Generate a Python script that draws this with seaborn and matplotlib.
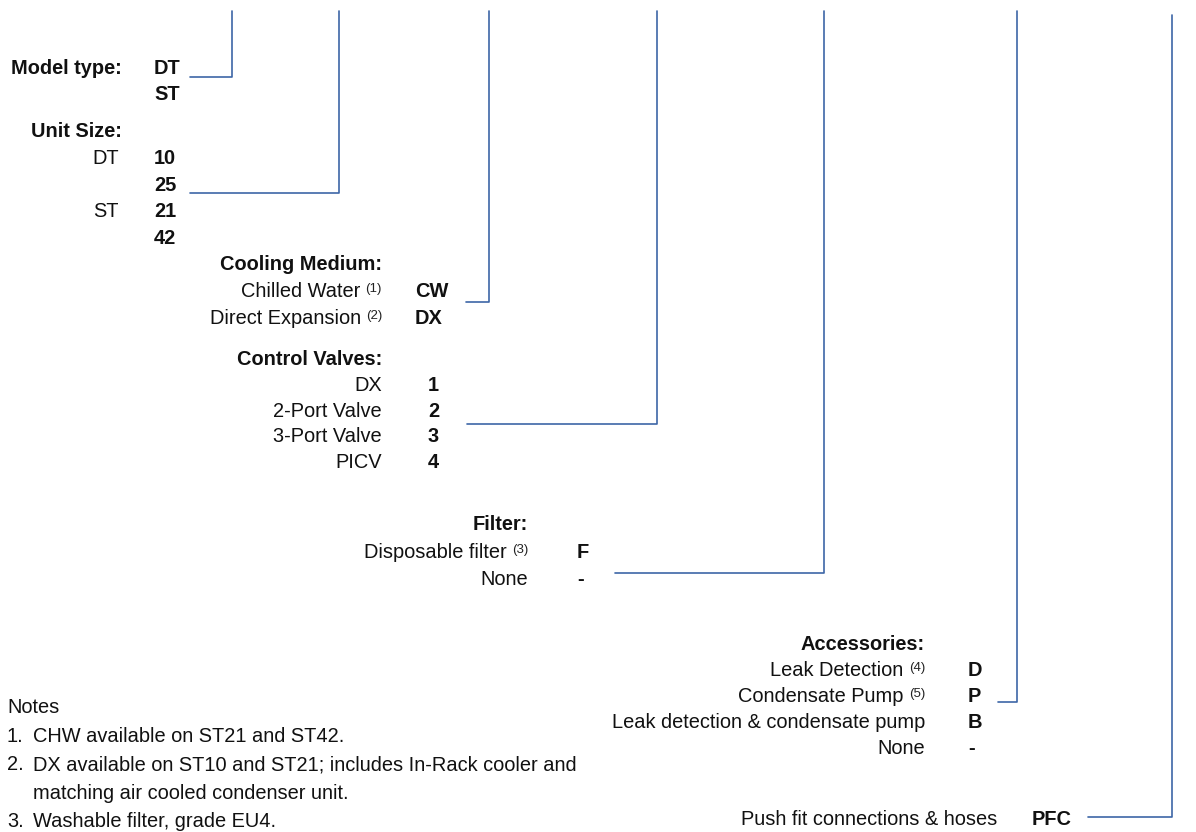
import matplotlib

matplotlib.use("Agg")
import matplotlib.pyplot as plt
import pandas as pd
import seaborn as sns

# ordering-code sections: heading, option labels, codes, footnote marks
MODEL_HEADING = "Model type:"
MODEL_CODES = ["DT", "ST"]

SIZE_HEADING = "Unit Size:"
SIZE_LABELS = ["DT", "", "ST", ""]
SIZE_CODES = ["10", "25", "21", "42"]

COOLING_HEADING = "Cooling Medium:"
COOLING_LABELS = ["Chilled Water", "Direct Expansion"]
COOLING_NOTES = ["(1)", "(2)"]
COOLING_CODES = ["CW", "DX"]

VALVE_HEADING = "Control Valves:"
VALVE_LABELS = ["DX", "2-Port Valve", "3-Port Valve", "PICV"]
VALVE_CODES = ["1", "2", "3", "4"]

FILTER_HEADING = "Filter:"
FILTER_LABELS = ["Disposable filter", "None"]
FILTER_NOTES = ["(3)", ""]
FILTER_CODES = ["F", "-"]

ACC_HEADING = "Accessories:"
ACC_LABELS = ["Leak Detection", "Condensate Pump", "Leak detection & condensate pump", "None"]
ACC_NOTES = ["(4)", "(5)", "", ""]
ACC_CODES = ["D", "P", "B", "-"]

CONN_LABEL = "Push fit connections & hoses"
CONN_CODE = "PFC"

NOTES_TITLE = "Notes"
NOTE_NUMBERS = ["1.", "2.", "", "3."]
NOTE_LINES = [
    "CHW available on ST21 and ST42.",
    "DX available on ST10 and ST21; includes In-Rack cooler and",
    "matching air cooled condenser unit.",
    "Washable filter, grade EU4.",
]

# connector lines: horizontal start, horizontal y, vertical x, top of vertical
CONN_X0 = [190, 190, 466, 467, 615, 998, 1088]
CONN_Y = [77, 193, 302, 424, 573, 702, 817]
CONN_XV = [232, 339, 489, 657, 824, 1017, 1172]
CONN_TOP = [11, 11, 11, 11, 11, 11, 15]

LINE_COLOR = "#3d66a7"
TEXT_COLOR = "#111111"
FS = 14.4
SUP_FS = 9.5

sns.set_theme(style="white")
plt.rcParams["font.family"] = ["Liberation Sans", "DejaVu Sans"]

fig = plt.figure(figsize=(11.96, 8.32), dpi=100)
ax = fig.add_axes([0, 0, 1, 1])
renderer = fig.canvas.get_renderer()


def put(x, yc, s, ha="left", bold=False, size=FS):
    # yc is the visual centre of the row, text sits on its baseline
    return ax.text(x, yc + 7, s, ha=ha, va="baseline", fontsize=size,
                   fontweight="bold" if bold else "normal", color=TEXT_COLOR)


def label_with_note(right, yc, label, note):
    if note:
        t = ax.text(right, yc + 2, note, ha="right", va="baseline",
                    fontsize=SUP_FS, color="#222222")
        bb = t.get_window_extent(renderer)
        put(bb.x0 - 5, yc, label, ha="right")
    else:
        put(right, yc, label, ha="right")


def section(heading, head_y, right, code_x, labels, codes, notes=None,
            pitch=26.5, label_right=None):
    put(right, head_y, heading, ha="right", bold=True)
    label_right = right if label_right is None else label_right
    notes = notes or [""] * len(labels)
    for i, (lab, code, note) in enumerate(zip(labels, codes, notes)):
        yc = head_y + pitch * (i + 1)
        if lab:
            label_with_note(label_right, yc, lab, note)
        put(code_x, yc, code, bold=True)


ax.set_xlim(0, 1196)
ax.set_ylim(832, 0)

# model type: heading shares a row with the first code
put(122, 67, MODEL_HEADING, ha="right", bold=True)
for i, code in enumerate(MODEL_CODES):
    put(154, 67 + 26 * i, code, bold=True)

section(SIZE_HEADING, 130, 122, 154, SIZE_LABELS, SIZE_CODES, pitch=26.8, label_right=119)
section(COOLING_HEADING, 263, 382, 415, COOLING_LABELS, COOLING_CODES, COOLING_NOTES, pitch=27)
section(VALVE_HEADING, 358, 382, 428, VALVE_LABELS, VALVE_CODES, pitch=25.8)
section(FILTER_HEADING, 523, 528, 577, FILTER_LABELS, FILTER_CODES, FILTER_NOTES, pitch=27.5)
section(ACC_HEADING, 643, 925, 968, ACC_LABELS, ACC_CODES, ACC_NOTES, pitch=26)

put(997, 818, CONN_LABEL, ha="right")
put(1032, 818, CONN_CODE, bold=True)

# notes block; the last line sits right at the bottom edge as in the source
put(7, 706, NOTES_TITLE)
for i, (num, line) in enumerate(zip(NOTE_NUMBERS, NOTE_LINES)):
    yc = 735 + 28.3 * i
    if num:
        put(7, yc, num)
    put(33, yc, line)

rows = []
for k in range(len(CONN_X0)):
    pts = [(CONN_X0[k], CONN_Y[k]), (CONN_XV[k], CONN_Y[k]), (CONN_XV[k], CONN_TOP[k])]
    for j, (x, y) in enumerate(pts):
        rows.append({"conn": k, "step": j, "x": x, "y": y})
lines = pd.DataFrame(rows)
sns.lineplot(data=lines, x="x", y="y", units="conn", estimator=None, sort=False,
             color=LINE_COLOR, linewidth=1.2, ax=ax, legend=False)
ax.set_xlim(0, 1196)
ax.set_ylim(832, 0)
ax.axis("off")

fig.savefig("out.png", dpi=100)
